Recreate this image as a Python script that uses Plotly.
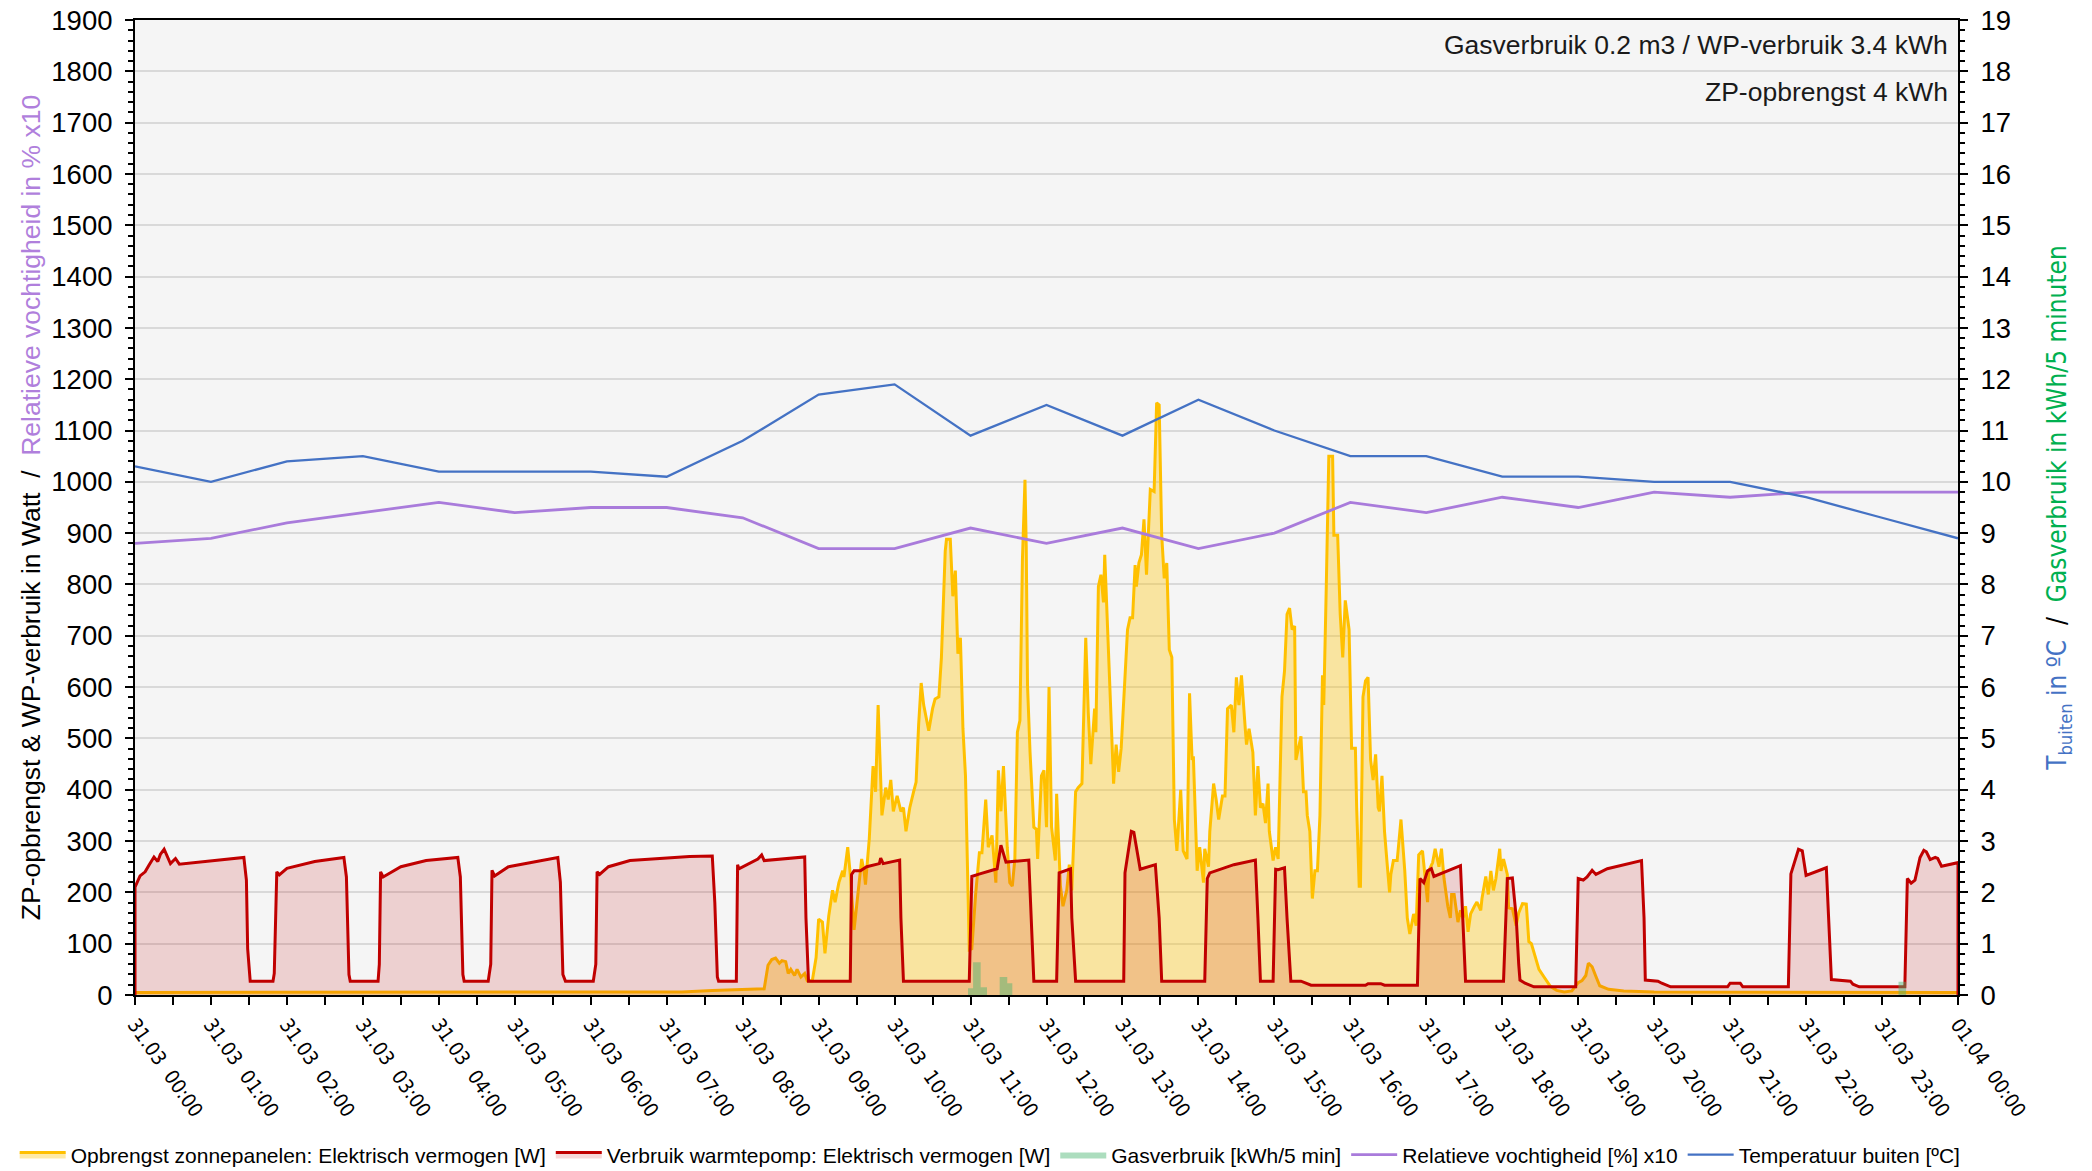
import pandas as pd
import plotly.graph_objects as go

DAY = "2024-03-31"

# ---- data ----
hour_time = ["00:00", "01:00", "02:00", "03:00", "04:00", "05:00", "06:00", "07:00", "08:00",
             "09:00", "10:00", "11:00", "12:00", "13:00", "14:00", "15:00", "16:00", "17:00",
             "18:00", "19:00", "20:00", "21:00", "22:00", "23:00", "24:00"]
temp_c = [10.3, 10.0, 10.4, 10.5, 10.2, 10.2, 10.2, 10.1, 10.8, 11.7, 11.9, 10.9, 11.5,
          10.9, 11.6, 11.0, 10.5, 10.5, 10.1, 10.1, 10.0, 10.0, 9.7, 9.3, 8.9]
humidity_pct = [88, 89, 92, 94, 96, 94, 95, 95, 93, 87, 87, 91, 88, 91, 87, 90, 96, 94,
                97, 95, 98, 97, 98, 98, 98]

zp_time = ["00:00", "07:12", "07:36", "08:00", "08:17", "08:20", "08:23", "08:26", "08:29", "08:31",
           "08:34", "08:36", "08:38", "08:41", "08:43", "08:46", "08:49", "08:51", "08:55", "08:58",
           "09:00", "09:03", "09:05", "09:08", "09:11", "09:13", "09:16", "09:19", "09:20", "09:23",
           "09:25", "09:28", "09:30", "09:34", "09:36", "09:37", "09:40", "09:43", "09:45", "09:47",
           "09:50", "09:53", "09:55", "09:57", "09:59", "10:02", "10:05", "10:07", "10:09", "10:12",
           "10:15", "10:17", "10:19", "10:21", "10:23", "10:27", "10:30", "10:32", "10:35", "10:37",
           "10:40", "10:41", "10:44", "10:46", "10:48", "10:50", "10:52", "10:54", "10:56", "10:58",
           "10:59", "11:01", "11:04", "11:07", "11:09", "11:12", "11:14", "11:17", "11:20", "11:22",
           "11:24", "11:26", "11:29", "11:31", "11:33", "11:35", "11:37", "11:39", "11:41", "11:43",
           "11:44", "11:45", "11:47", "11:50", "11:52", "11:53", "11:56", "11:58", "12:00", "12:02",
           "12:04", "12:07", "12:08", "12:11", "12:13", "12:16", "12:18", "12:20", "12:23", "12:25",
           "12:28", "12:31", "12:33", "12:35", "12:38", "12:39", "12:41", "12:43", "12:45", "12:46",
           "12:48", "12:50", "12:53", "12:55", "12:57", "12:59", "13:01", "13:04", "13:06", "13:08",
           "13:10", "13:11", "13:13", "13:15", "13:17", "13:19", "13:22", "13:25", "13:27", "13:29",
           "13:31", "13:33", "13:35", "13:37", "13:39", "13:41", "13:43", "13:46", "13:48", "13:51",
           "13:53", "13:55", "13:56", "13:59", "14:01", "14:04", "14:05", "14:08", "14:09", "14:12",
           "14:14", "14:16", "14:19", "14:21", "14:23", "14:26", "14:28", "14:30", "14:32", "14:34",
           "14:37", "14:38", "14:40", "14:43", "14:45", "14:47", "14:49", "14:51", "14:53", "14:55",
           "14:56", "14:59", "15:01", "15:03", "15:06", "15:08", "15:10", "15:12", "15:14", "15:16",
           "15:17", "15:21", "15:23", "15:25", "15:26", "15:28", "15:30", "15:32", "15:34", "15:36",
           "15:38", "15:39", "15:41", "15:43", "15:46", "15:47", "15:50", "15:52", "15:54", "15:56",
           "15:59", "16:01", "16:04", "16:05", "16:07", "16:08", "16:10", "16:12", "16:14", "16:16",
           "16:18", "16:20", "16:22", "16:23", "16:25", "16:27", "16:29", "16:31", "16:32", "16:34",
           "16:37", "16:40", "16:43", "16:45", "16:47", "16:50", "16:52", "16:54", "16:57", "16:59",
           "17:01", "17:02", "17:05", "17:07", "17:10", "17:12", "17:14", "17:17", "17:19", "17:20",
           "17:22", "17:25", "17:27", "17:29", "17:31", "17:33", "17:35", "17:38", "17:40", "17:43",
           "17:44", "17:47", "17:49", "17:51", "17:53", "17:55", "17:58", "17:59", "18:01", "18:04",
           "18:05", "18:08", "18:11", "18:13", "18:16", "18:19", "18:21", "18:23", "18:26", "18:29",
           "18:33", "18:38", "18:43", "18:49", "18:55", "19:00", "19:03", "19:06", "19:08", "19:11",
           "19:14", "19:17", "19:24", "19:36", "20:00", "24:00"]
zp_watt = [5, 6, 9, 11, 12, 58, 69, 72, 62, 67,
           65, 42, 50, 38, 50, 35, 42, 28, 28, 73,
           148, 142, 81, 154, 204, 181, 219, 242, 230, 288,
           235, 127, 173, 265, 240, 215, 304, 446, 396, 565,
           350, 404, 381, 419, 358, 388, 358, 365, 319, 365,
           396, 415, 527, 608, 565, 515, 558, 577, 581, 658,
           865, 888, 888, 777, 827, 665, 696, 519, 427, 196,
           88, 90, 196, 277, 277, 381, 288, 311, 219, 438,
           358, 446, 288, 219, 212, 265, 512, 535, 850, 1004,
           873, 604, 473, 327, 323, 265, 427, 438, 327, 600,
           327, 262, 392, 212, 173, 204, 254, 204, 396, 404,
           412, 696, 550, 450, 558, 512, 796, 819, 765, 858,
           735, 581, 412, 488, 435, 481, 565, 712, 735, 735,
           838, 796, 842, 858, 927, 819, 985, 981, 1154, 1150,
           896, 812, 842, 673, 658, 342, 281, 400, 281, 265,
           588, 458, 465, 242, 288, 219, 285, 250, 319, 412,
           381, 342, 388, 388, 558, 565, 512, 619, 565, 623,
           519, 488, 519, 473, 350, 446, 365, 373, 335, 412,
           319, 262, 288, 265, 581, 631, 742, 754, 712, 719,
           458, 504, 396, 396, 350, 319, 188, 242, 242, 350,
           623, 565, 796, 1050, 1050, 896, 896, 742, 658, 769,
           712, 481, 481, 365, 212, 212, 581, 612, 619, 458,
           419, 469, 365, 358, 427, 319, 258, 200, 235, 262,
           262, 342, 242, 150, 119, 158, 135, 273, 281, 227,
           181, 242, 258, 285, 250, 285, 227, 173, 150, 196,
           196, 142, 165, 150, 173, 123, 158, 173, 181, 165,
           188, 231, 196, 242, 204, 227, 285, 242, 265, 235,
           170, 168, 135, 160, 178, 177, 104, 100, 73, 50,
           35, 17, 9, 6, 8, 24, 28, 38, 62, 55,
           36, 18, 11, 8, 6, 5]

wp_time = ["00:00", "00:00", "00:04", "00:08", "00:11", "00:15", "00:18", "00:20", "00:23", "00:28",
           "00:32", "00:35", "01:26", "01:28", "01:29", "01:31", "01:49", "01:50", "01:52", "01:54",
           "02:00", "02:22", "02:45", "02:47", "02:49", "02:50", "03:12", "03:13", "03:14", "03:16",
           "03:30", "03:50", "04:15", "04:17", "04:19", "04:20", "04:39", "04:41", "04:42", "04:44",
           "04:55", "05:34", "05:36", "05:38", "05:40", "06:02", "06:04", "06:05", "06:07", "06:14",
           "06:31", "07:18", "07:36", "07:38", "07:40", "07:41", "07:55", "07:56", "07:57", "08:00",
           "08:12", "08:15", "08:17", "08:49", "08:50", "08:52", "09:25", "09:26", "09:28", "09:33",
           "09:38", "09:48", "09:49", "09:51", "10:04", "10:05", "10:07", "10:59", "11:01", "11:06",
           "11:21", "11:24", "11:28", "11:46", "11:48", "11:50", "12:08", "12:10", "12:19", "12:20",
           "12:23", "13:01", "13:02", "13:07", "13:09", "13:14", "13:26", "13:29", "13:31", "14:05",
           "14:07", "14:09", "14:28", "14:45", "14:47", "14:49", "14:59", "15:01", "15:03", "15:08",
           "15:10", "15:13", "15:21", "15:29", "16:12", "16:14", "16:24", "16:27", "16:53", "16:55",
           "16:58", "17:01", "17:04", "17:06", "17:27", "17:29", "17:31", "18:01", "18:04", "18:08",
           "18:10", "18:11", "18:13", "18:14", "18:18", "18:25", "18:58", "19:00", "19:04", "19:07",
           "19:11", "19:14", "19:23", "19:39", "19:50", "19:52", "19:53", "20:03", "20:06", "20:13",
           "20:58", "21:00", "21:08", "21:10", "21:46", "21:48", "21:54", "21:57", "22:00", "22:16",
           "22:18", "22:20", "22:35", "22:37", "22:42", "23:18", "23:20", "23:23", "23:26", "23:30",
           "23:33", "23:35", "23:38", "23:42", "23:44", "23:47", "24:00", "24:00"]
wp_watt = [0, 210, 232, 240, 253, 269, 260, 274, 284, 256,
           266, 255, 268, 224, 90, 27, 27, 42, 240, 234,
           247, 260, 268, 230, 40, 27, 27, 60, 240, 230,
           250, 262, 268, 230, 40, 27, 27, 60, 243, 232,
           250, 268, 220, 40, 27, 27, 60, 240, 235, 250,
           262, 270, 271, 180, 35, 27, 27, 254, 246, 250,
           265, 273, 262, 269, 150, 27, 27, 235, 242, 242,
           250, 256, 267, 256, 263, 150, 27, 27, 231, 235,
           246, 292, 259, 263, 150, 27, 27, 238, 246, 150,
           27, 27, 238, 319, 317, 245, 254, 150, 27, 27,
           227, 238, 254, 263, 150, 27, 27, 245, 244, 248,
           150, 27, 27, 19, 19, 22, 22, 19, 19, 227,
           219, 242, 246, 231, 252, 150, 27, 27, 227, 228,
           165, 152, 60, 29, 23, 16, 16, 227, 224, 230,
           243, 235, 246, 256, 262, 150, 29, 27, 23, 16,
           16, 23, 23, 16, 16, 236, 284, 281, 233, 248,
           150, 30, 27, 21, 16, 16, 227, 218, 224, 268,
           282, 279, 264, 268, 266, 251, 258, 0]

gas_time = ["00:00", "10:58", "11:02", "11:08", "11:13", "11:23", "11:29", "11:33", "23:13", "23:19", "24:00"]
gas_kwh = [0, 0.13, 0.64, 0.15, 0, 0.35, 0.23, 0, 0.26, 0, 0]

summary_lines = ["Gasverbruik 0.2 m3 / WP-verbruik 3.4 kWh", "ZP-opbrengst 4 kWh"]


def to_dt(times):
    base = pd.Timestamp(DAY)
    out = []
    for t in times:
        hh, mm = t.split(":")
        out.append(base + pd.Timedelta(minutes=int(hh) * 60 + int(mm)))
    return out


FONT = "Liberation Sans, Arial, sans-serif"
COND = "DejaVu Sans Condensed, Liberation Sans, sans-serif"

fig = go.Figure()
fig.add_trace(go.Scatter(
    x=to_dt(zp_time), y=zp_watt, name="Opbrengst zonnepanelen: Elektrisch vermogen [W]",
    mode="lines", line=dict(color="#FFC000", width=3), fill="tozeroy",
    fillcolor="rgba(255,200,20,0.38)"))
fig.add_trace(go.Scatter(
    x=to_dt(wp_time), y=wp_watt, name="Verbruik warmtepomp: Elektrisch vermogen [W]",
    mode="lines", line=dict(color="#C00000", width=3), fill="tozeroy",
    fillcolor="rgba(192,0,0,0.15)"))
fig.add_trace(go.Scatter(
    x=to_dt(gas_time), y=gas_kwh, name="Gasverbruik [kWh/5 min]", yaxis="y2",
    mode="lines", line=dict(color="rgba(150,215,175,1)", width=0, shape="hv"), fill="tozeroy",
    fillcolor="rgba(70,180,110,0.45)"))
fig.add_trace(go.Scatter(
    x=to_dt(hour_time), y=[h * 10 for h in humidity_pct], name="Relatieve vochtigheid [%] x10",
    mode="lines", line=dict(color="#A97BDB", width=2.8)))
fig.add_trace(go.Scatter(
    x=to_dt(hour_time), y=temp_c, name="Temperatuur buiten [ºC]", yaxis="y2",
    mode="lines", line=dict(color="#4472C4", width=2.3)))

for i, txt in enumerate(summary_lines):
    fig.add_annotation(text=txt, xref="paper", yref="paper", x=0.9955, y=0.974 - i * 0.048,
                       xanchor="right", yanchor="middle", showarrow=False,
                       font=dict(family=FONT, size=26.5, color="#1a1a1a"))

left_title = ("ZP-opbrengst & WP-verbruik in Watt  /  "
              "<span style='color:#B07FDC'>Relatieve vochtigheid in % x10</span>")
right_title = ("<span style='color:#4472C4'>T<sub>buiten</sub> in ºC</span>  /  "
               "<span style='color:#00B050'>Gasverbruik in kWh/5 minuten</span>")

fig.update_layout(
    width=2092, height=1171,
    margin=dict(l=135, r=134, t=20, b=176, autoexpand=False),
    paper_bgcolor="white", plot_bgcolor="#F5F5F5",
    font=dict(family=FONT, size=25, color="black"),
    showlegend=True,
    legend=dict(orientation="h", x=-0.066, xanchor="left", y=-0.164, yanchor="middle",
                font=dict(family=FONT, size=21, color="black"), itemwidth=46,
                tracegroupgap=0, bgcolor="rgba(0,0,0,0)"),
    xaxis=dict(
        type="date", range=[to_dt(["00:00"])[0], to_dt(["24:00"])[0]], automargin=False,
        tick0=to_dt(["00:00"])[0], dtick=3600000, tickformat="%d.%m\u00a0\u00a0%H:%M",
        tickangle=55, ticks="outside", ticklen=8, tickwidth=1.5, tickcolor="black",
        minor=dict(dtick=1800000, ticks="outside", ticklen=8, tickwidth=1.5, tickcolor="black",
                   showgrid=False),
        showgrid=False, showline=True, linecolor="black", linewidth=2, mirror=True,
        zeroline=False, tickfont=dict(family=COND, size=20, color="black")),
    yaxis=dict(
        range=[0, 1900], dtick=100, ticks="outside", ticklen=8, tickwidth=1.5, tickcolor="black",
        automargin=False, ticklabelstandoff=7,
        minor=dict(dtick=20, ticks="outside", ticklen=5, tickwidth=1.5, tickcolor="black",
                   showgrid=False),
        showgrid=True, gridcolor="#D9D9D9", gridwidth=1.5, showline=True, linecolor="black",
        linewidth=2, zeroline=False, tickfont=dict(size=27.5),
        title=dict(text=left_title, font=dict(size=26.5), standoff=3)),
    yaxis2=dict(
        overlaying="y", side="right", range=[0, 19], dtick=1, ticks="outside", ticklen=8,
        tickwidth=1.5, tickcolor="black", automargin=False, ticklabelstandoff=7,
        minor=dict(dtick=0.2, ticks="outside", ticklen=5, tickwidth=1.5, tickcolor="black",
                   showgrid=False),
        showgrid=False, showline=True, linecolor="black", linewidth=2, zeroline=False,
        tickfont=dict(size=27.5),
        title=dict(text=right_title, font=dict(family=COND, size=26), standoff=38)),
)

fig.write_html("out.html", config={"displayModeBar": False},
               post_script="document.body.style.margin='0';")
